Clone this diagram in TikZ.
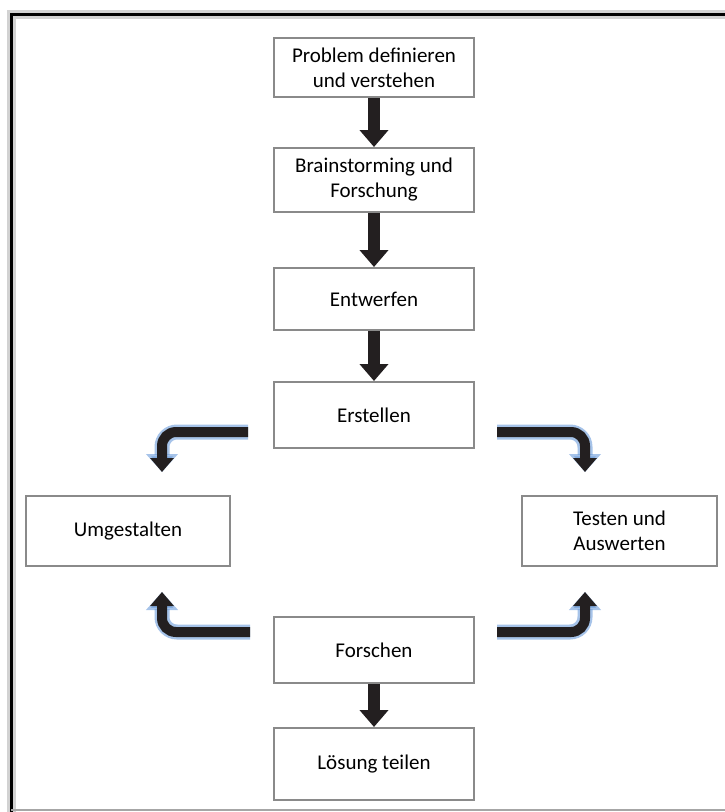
\documentclass[tikz,border=0pt]{standalone}
\usepackage{fontspec}
\setmainfont{Carlito}
\usetikzlibrary{arrows.meta}
\definecolor{boxgray}{HTML}{8A8A8A}
\definecolor{arrowblack}{HTML}{231F20}
\definecolor{glowblue}{HTML}{6A9BDA}
\tikzset{
  box/.style={draw=boxgray, line width=2pt, fill=white, align=center,
    font=\fontsize{21}{25}\selectfont, inner sep=0pt, minimum width=200pt},
  downarrow/.style={draw=arrowblack, line width=12pt, -{Triangle[width=28pt,length=17pt]}},
  glow/.style={draw=glowblue, opacity=0.6, line width=15pt, rounded corners=15pt,
    -{Triangle[width=31pt,length=18pt]}},
  bentarrow/.style={draw=arrowblack, line width=10pt, rounded corners=14pt,
    -{Triangle[width=23pt,length=14pt]}}
}
\begin{document}
\begin{tikzpicture}[x=1pt,y=-1pt]
\useasboundingbox (0,0) rectangle (725,812);
% frame
\draw[gray!35, line width=9pt] (11,812) -- (11,14) -- (725,14);
\draw[black, line width=3pt] (11,812) -- (11,14) -- (725,14);
\draw[gray!70, line width=1.5pt] (11,810) -- (725,810);
% boxes
\node[box, minimum height=59pt] (b1) at (374,67.5) {Problem definieren\\und verstehen};
\node[box, minimum height=64pt] (b2) at (374,180) {Brainstorming und\\Forschung};
\node[box, minimum height=62pt] (b3) at (374,299) {Entwerfen};
\node[box, minimum height=66pt] (b4) at (374,415) {Erstellen};
\node[box, minimum height=70pt, minimum width=204pt] (b5) at (128,531) {Umgestalten};
\node[box, minimum height=70pt, minimum width=195pt] (b6) at (619.5,531) {Testen und\\Auswerten};
\node[box, minimum height=66pt] (b7) at (374,650) {Forschen};
\node[box, minimum height=72pt] (b8) at (374,764) {Lösung teilen};
% straight arrows
\draw[downarrow] (b1.south) -- (b2.north);
\draw[downarrow] (b2.south) -- (b3.north);
\draw[downarrow] (b3.south) -- (b4.north);
\draw[downarrow] (b7.south) -- (b8.north);
% bent arrows
\coordinate (tls) at (248,432); \coordinate (tle) at (162,472);
\coordinate (trs) at (497,432); \coordinate (tre) at (585,472);
\coordinate (bls) at (250,632); \coordinate (ble) at (162,592);
\coordinate (brs) at (497,632); \coordinate (bre) at (585,592);
\foreach \s/\e in {tls/tle, trs/tre, bls/ble, brs/bre}{
  \draw[glow] (\s) -| (\e);
  \draw[bentarrow] (\s) -| (\e);
}
\end{tikzpicture}
\end{document}
